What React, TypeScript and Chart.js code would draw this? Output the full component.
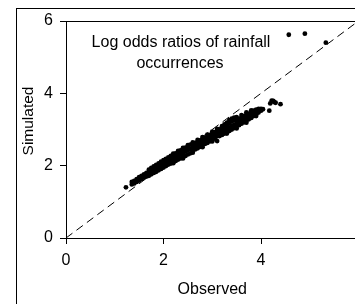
import React, { useEffect, useRef } from "react";
import { Chart, registerables } from "chart.js";

Chart.register(...registerables);

// Main band of points (Observed, Simulated)
const observed: number[] = [
  1.35, 1.35, 1.40, 1.40, 1.45, 1.45, 1.50, 1.50, 1.55, 1.55, 1.60, 1.60, 1.65, 1.65, 1.65,
  1.70, 1.70, 1.70, 1.75, 1.75, 1.75, 1.80, 1.80, 1.80, 1.85, 1.85, 1.85, 1.90, 1.90, 1.90,
  1.95, 1.95, 1.95, 2.00, 2.00, 2.00, 2.05, 2.05, 2.05, 2.10, 2.10, 2.10, 2.15, 2.15, 2.15,
  2.20, 2.20, 2.20, 2.25, 2.25, 2.25, 2.30, 2.30, 2.30, 2.35, 2.35, 2.35, 2.40, 2.40, 2.40,
  2.45, 2.45, 2.45, 2.50, 2.50, 2.50, 2.55, 2.55, 2.55,
  2.60, 2.60, 2.60, 2.65, 2.65, 2.65, 2.70, 2.70, 2.70, 2.75, 2.75, 2.75, 2.80, 2.80, 2.80,
  2.85, 2.85, 2.85, 2.90, 2.90, 2.90, 2.95, 2.95, 2.95, 3.00, 3.00, 3.00, 3.05, 3.05, 3.05,
  3.10, 3.10, 3.10, 3.15, 3.15, 3.15, 3.20, 3.20, 3.20, 3.25, 3.25, 3.25, 3.30, 3.30, 3.30,
  3.35, 3.35, 3.35, 3.40, 3.40, 3.40, 3.45, 3.45, 3.45, 3.50, 3.50, 3.50,
  3.55, 3.55, 3.55, 3.60, 3.60, 3.60, 3.65, 3.65, 3.65, 3.70, 3.70, 3.70, 3.75, 3.75, 3.75,
  3.80, 3.80, 3.80, 3.85, 3.85, 3.85, 3.90, 3.90, 3.90, 3.95, 3.95, 3.95, 4.00, 4.00, 4.04,
  4.17, 4.19, 4.22, 4.25, 4.27, 4.30, 4.40,
];
const simulated: number[] = [
  1.48, 1.55, 1.51, 1.58, 1.55, 1.63, 1.59, 1.68, 1.63, 1.72, 1.67, 1.76, 1.70, 1.76, 1.80,
  1.72, 1.81, 1.89, 1.76, 1.85, 1.94, 1.80, 1.89, 1.98, 1.83, 1.93, 2.02, 1.87, 1.97, 2.06,
  1.91, 2.01, 2.11, 1.95, 2.05, 2.15, 1.99, 2.09, 2.19, 2.03, 2.13, 2.23, 2.06, 2.17, 2.27,
  2.10, 2.20, 2.30, 2.13, 2.24, 2.34, 2.17, 2.28, 2.38, 2.20, 2.31, 2.42, 2.24, 2.35, 2.46,
  2.27, 2.39, 2.50, 2.31, 2.43, 2.54, 2.34, 2.46, 2.58,
  2.41, 2.50, 2.59, 2.45, 2.54, 2.63, 2.48, 2.57, 2.66, 2.52, 2.61, 2.70, 2.56, 2.65, 2.74,
  2.60, 2.69, 2.77, 2.63, 2.72, 2.81, 2.67, 2.76, 2.85, 2.71, 2.80, 2.89, 2.75, 2.84, 2.93,
  2.81, 2.88, 2.96, 2.82, 2.91, 3.00, 2.85, 2.94, 3.03, 2.89, 2.98, 3.07, 2.93, 3.02, 3.12,
  2.96, 3.06, 3.18, 3.00, 3.09, 3.22, 3.04, 3.13, 3.25, 3.08, 3.17, 3.27,
  3.12, 3.21, 3.30, 3.16, 3.25, 3.33, 3.20, 3.28, 3.37, 3.24, 3.32, 3.41, 3.28, 3.36, 3.44,
  3.32, 3.40, 3.48, 3.37, 3.44, 3.52, 3.41, 3.48, 3.55, 3.47, 3.54, 3.57, 3.52, 3.57, 3.56,
  3.52, 3.72, 3.80, 3.79, 3.76, 3.74, 3.70,
];

// Points along the upper and lower edges of the band
const edgeObserved: number[] = [
  2.20, 2.30, 2.40, 2.50, 2.60, 2.70, 2.80, 2.90, 3.00, 3.10, 3.20, 3.25, 3.30, 3.35, 3.40,
  3.45, 3.50, 3.60, 3.70, 3.80,
  2.20, 2.40, 2.60, 2.80, 3.00, 3.30, 3.50, 3.70, 3.90,
];
const edgeSimulated: number[] = [
  2.33, 2.41, 2.49, 2.57, 2.64, 2.71, 2.79, 2.86, 2.94, 3.02, 3.09, 3.14, 3.19, 3.26, 3.30,
  3.33, 3.34, 3.40, 3.47, 3.53,
  2.07, 2.20, 2.36, 2.51, 2.67, 2.89, 3.03, 3.19, 3.37,
];

// Isolated points
const outlierObserved: number[] = [1.23, 3.10, 4.57, 4.90, 5.33];
const outlierSimulated: number[] = [1.40, 2.68, 5.62, 5.65, 5.40];

// 1:1 reference line
const diagonal: number[] = [0, 6];

// Axis ticks (the x label at 6 falls outside the visible crop)
const xTicks: number[] = [0, 2, 4, 6];
const xTickLabels: string[] = ["0", "2", "4", ""];
const yTicks: number[] = [0, 2, 4, 6];

const annotationLines: string[] = ["Log odds ratios of rainfall", "occurrences"];
const xTitle = "Observed";
const yTitle = "Simulated";

const FONT = "'Liberation Sans', Arial, sans-serif";

export default function App() {
  const ref = useRef<HTMLCanvasElement | null>(null);

  useEffect(() => {
    if (!ref.current) return;
    const points = observed
      .map((x, i) => ({ x, y: simulated[i] }))
      .concat(edgeObserved.map((x, i) => ({ x, y: edgeSimulated[i] })))
      .concat(outlierObserved.map((x, i) => ({ x, y: outlierSimulated[i] })));
    const diag = diagonal.map((v) => ({ x: v, y: v }));

    const decor = {
      id: "decor",
      beforeDraw(chart: any) {
        const ctx = chart.ctx;
        const a = chart.chartArea;
        ctx.save();
        ctx.fillStyle = "#fff";
        ctx.fillRect(0, 0, chart.width, chart.height);
        ctx.strokeStyle = "#000";
        ctx.lineWidth = 1;
        ctx.strokeRect(16.5, 8.5, 600, 600);
        ctx.beginPath();
        ctx.moveTo(a.left, Math.round(a.top) + 0.5);
        ctx.lineTo(a.right, Math.round(a.top) + 0.5);
        ctx.moveTo(Math.round(a.right) + 0.5, a.top);
        ctx.lineTo(Math.round(a.right) + 0.5, a.bottom);
        ctx.stroke();
        ctx.restore();
      },
      afterDraw(chart: any) {
        const ctx = chart.ctx;
        ctx.save();
        ctx.fillStyle = "#000";
        ctx.font = `16px ${FONT}`;
        ctx.textAlign = "center";
        ctx.textBaseline = "alphabetic";
        ctx.fillText(annotationLines[0], 181, 47);
        ctx.fillText(annotationLines[1], 180, 68);
        ctx.translate(29, 121);
        ctx.rotate(-Math.PI / 2);
        ctx.font = `15.5px ${FONT}`;
        ctx.textBaseline = "middle";
        ctx.fillText(yTitle, 0, 0);
        ctx.restore();
      },
    };

    const chart = new Chart(ref.current, {
      type: "scatter",
      data: {
        datasets: [
          {
            data: points,
            pointRadius: 2.4,
            pointHoverRadius: 2.4,
            backgroundColor: "#000",
            borderWidth: 0,
          },
          {
            data: diag,
            showLine: true,
            pointRadius: 0,
            borderColor: "#000",
            borderWidth: 1,
            borderDash: [8, 5],
          } as any,
        ],
      },
      options: {
        animation: false,
        responsive: false,
        devicePixelRatio: 1,
        events: [],
        layout: { padding: { left: 16, top: 21, right: 11.5, bottom: 16 } },
        plugins: { legend: { display: false }, tooltip: { enabled: false } },
        scales: {
          x: {
            type: "linear",
            min: 0,
            max: 6,
            afterFit: (s: any) => {
              s.height = 66;
            },
            afterBuildTicks: (s: any) => {
              s.ticks = xTicks.map((v) => ({ value: v }));
            },
            ticks: {
              color: "#000",
              padding: 7,
              font: { family: FONT, size: 16 },
              callback: (_v: any, i: number) => xTickLabels[i],
            },
            grid: { display: true, drawOnChartArea: false, drawTicks: true, tickLength: 6, color: "#000" },
            border: { display: true, color: "#000", width: 1 },
            title: {
              display: true,
              text: xTitle,
              color: "#000",
              font: { family: FONT, size: 16 },
              padding: { top: 0, bottom: 5 },
            },
          },
          y: {
            type: "linear",
            min: 0,
            max: 6,
            afterFit: (s: any) => {
              s.width = 50;
            },
            afterBuildTicks: (s: any) => {
              s.ticks = yTicks.map((v) => ({ value: v }));
            },
            ticks: {
              color: "#000",
              padding: 7,
              font: { family: FONT, size: 16 },
            },
            grid: { display: true, drawOnChartArea: false, drawTicks: true, tickLength: 6, color: "#000" },
            border: { display: true, color: "#000", width: 1 },
          },
        },
      },
      plugins: [decor],
    });
    return () => chart.destroy();
  }, []);

  return (
    <div
      style={{
        position: "fixed",
        left: 0,
        top: 0,
        width: 355,
        height: 304,
        overflow: "hidden",
        background: "#fff",
      }}
    >
      <canvas ref={ref} width={370} height={320} style={{ display: "block", width: 370, height: 320 }} />
    </div>
  );
}
